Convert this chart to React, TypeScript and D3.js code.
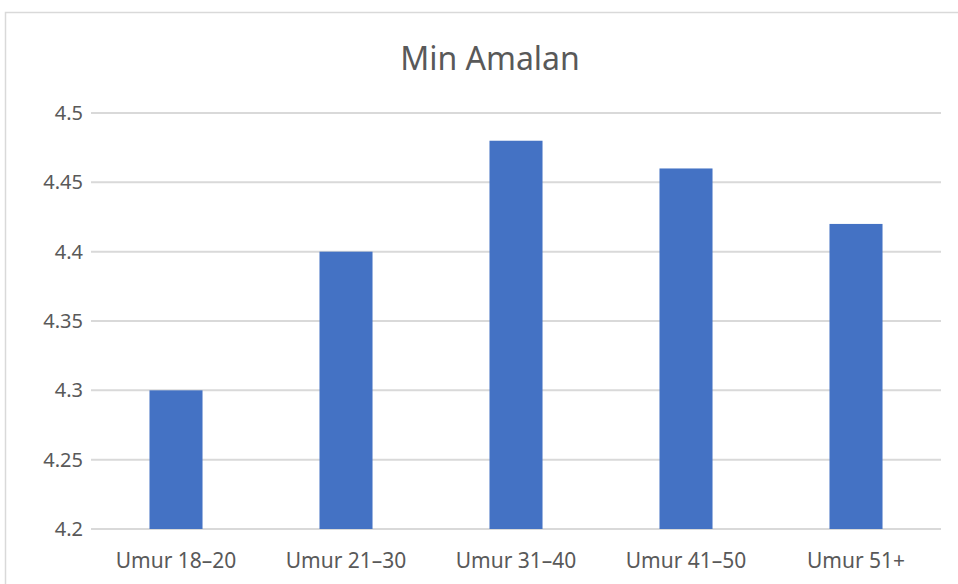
import React from "react";
import * as d3 from "d3";

const categories = ["Umur 18–20", "Umur 21–30", "Umur 31–40", "Umur 41–50", "Umur 51+"];
const values = [4.3, 4.4, 4.48, 4.46, 4.42];
const yTicks = [4.2, 4.25, 4.3, 4.35, 4.4, 4.45, 4.5];
const tickLabels = ["4.2", "4.25", "4.3", "4.35", "4.4", "4.45", "4.5"];
const title = "Min Amalan";

const W = 958;
const H = 584;
const FONT = "'Noto Sans', 'Open Sans', sans-serif";

export default function App() {
  const x = d3.scaleBand<string>().domain(categories).range([91, 941]).paddingInner(0.688).paddingOuter(0.344);
  const y = d3.scaleLinear().domain([4.2, 4.5]).range([529, 113]);
  return (
    <svg width={W} height={H} style={{ position: "absolute", left: 0, top: 0, background: "#fff" }}>
      <rect x={5.5} y={12.5} width={W + 10} height={H + 10} fill="#fff" stroke="#d9d9d9" strokeWidth={1.5} />
      <text x={490} y={70} textAnchor="middle" fontFamily={FONT} fontSize={32} fill="#595959">{title}</text>
      {yTicks.map((t, i) => (
        <g key={i}>
          <line x1={91} x2={941} y1={y(t)} y2={y(t)} stroke="#d9d9d9" strokeWidth={2} />
          <text x={83} y={y(t) + 7} textAnchor="end" fontFamily={FONT} fontSize={20} fill="#595959">{tickLabels[i]}</text>
        </g>
      ))}
      {categories.map((c, i) => (
        <rect key={c} x={x(c)} y={y(values[i])} width={x.bandwidth()} height={y(4.2) - y(values[i])} fill="#4472c4" />
      ))}
      {categories.map((c) => (
        <text key={c} x={(x(c) as number) + x.bandwidth() / 2} y={568} textAnchor="middle" fontFamily={FONT} fontSize={21} fill="#595959">{c}</text>
      ))}
    </svg>
  );
}
